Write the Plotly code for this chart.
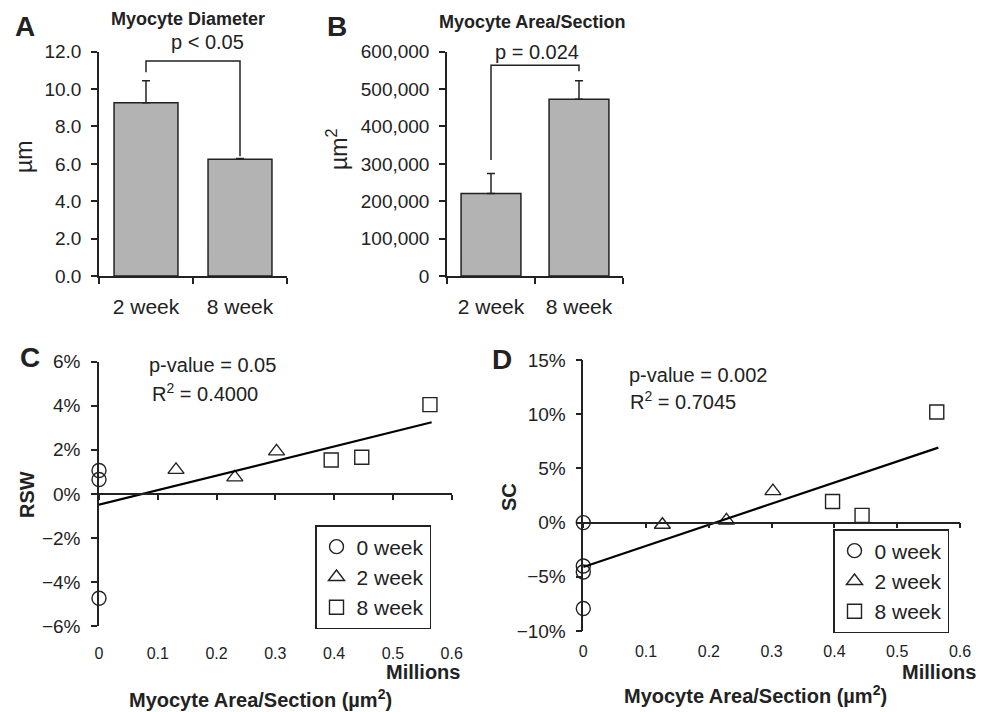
import plotly.graph_objects as go

# ---------------- data ----------------
bar_categories = ["2 week", "8 week"]
diameter_mean = [9.27, 6.24]
diameter_err = [1.18, 0.05]
area_mean = [221000, 472600]
area_err = [53500, 49400]

# significance brackets (y levels)
bracket_a_y = [10.9, 11.5, 11.5, 6.4]
bracket_b_y = [310000, 564000, 564000, 548000]

groups = ["0 week", "2 week", "8 week"]
group_symbols = ["circle-open", "triangle-up-open", "square-open"]

# Panel C: RSW (%) vs myocyte area/section (millions µm²)
rsw_x = {"0 week": [0, 0, 0], "2 week": [0.131, 0.231, 0.302], "8 week": [0.395, 0.447, 0.563]}
rsw_y = {"0 week": [1.06, 0.65, -4.74], "2 week": [1.09, 0.75, 1.93], "8 week": [1.54, 1.66, 4.05]}
rsw_fit_x = [0, 0.566]
rsw_fit_y = [-0.49, 3.25]
rsw_ticks = [-6, -4, -2, 0, 2, 4, 6]

# Panel D: SC (%) vs myocyte area/section (millions µm²)
sc_x = {"0 week": [0, 0, 0, 0], "2 week": [0.126, 0.228, 0.302], "8 week": [0.397, 0.444, 0.563]}
sc_y = {"0 week": [0.0, -4.0, -4.56, -7.93], "2 week": [-0.2, 0.2, 2.9], "8 week": [1.94, 0.67, 10.2]}
sc_fit_x = [0, 0.5655]
sc_fit_y = [-4.1, 6.92]
sc_ticks = [-10, -5, 0, 5, 10, 15]

area_ticks = [0, 0.1, 0.2, 0.3, 0.4, 0.5, 0.6]
area_ticktext = ["0", "0.1", "0.2", "0.3", "0.4", "0.5", "0.6"]

# ---------------- layout helpers ----------------
W, H = 982, 712
FONT = "Liberation Sans, Arial, Helvetica, sans-serif"
INK = "#222222"


def px(x):
    return x / W


def py(y):
    return 1 - y / H


def pct_labels(vals):
    return [("\u2212%d%%" % abs(v)) if v < 0 else ("%d%%" % v) for v in vals]


fig = go.Figure()

# ---- Panel A ----
fig.add_trace(go.Bar(
    x=bar_categories, y=diameter_mean, width=0.68,
    marker=dict(color="#b3b3b3", line=dict(color=INK, width=1.5)),
    error_y=dict(type="data", symmetric=False, array=diameter_err,
                 arrayminus=[0, 0], color=INK, thickness=1.5, width=4),
    xaxis="x", yaxis="y", showlegend=False))
fig.add_trace(go.Scatter(
    x=[bar_categories[0], bar_categories[0], bar_categories[1], bar_categories[1]],
    y=bracket_a_y, mode="lines", line=dict(color=INK, width=1.5),
    xaxis="x", yaxis="y", showlegend=False, hoverinfo="skip"))

# ---- Panel B ----
fig.add_trace(go.Bar(
    x=bar_categories, y=area_mean, width=0.68,
    marker=dict(color="#b3b3b3", line=dict(color=INK, width=1.5)),
    error_y=dict(type="data", symmetric=False, array=area_err,
                 arrayminus=[0, 0], color=INK, thickness=1.5, width=4),
    xaxis="x2", yaxis="y2", showlegend=False))
fig.add_trace(go.Scatter(
    x=[bar_categories[0], bar_categories[0], bar_categories[1], bar_categories[1]],
    y=bracket_b_y, mode="lines", line=dict(color=INK, width=1.5),
    xaxis="x2", yaxis="y2", showlegend=False, hoverinfo="skip"))

# ---- Panel C ----
fig.add_trace(go.Scatter(x=rsw_fit_x, y=rsw_fit_y, mode="lines",
                         line=dict(color="black", width=2.2),
                         xaxis="x5", yaxis="y3", showlegend=False, hoverinfo="skip"))
for i, g in enumerate(groups):
    fig.add_trace(go.Scatter(
        x=rsw_x[g], y=rsw_y[g], mode="markers", name=g,
        marker=dict(symbol=group_symbols[i], size=14, color=INK, line=dict(width=1.4, color=INK)),
        cliponaxis=False, xaxis="x3", yaxis="y3", legend="legend",
        legendgroup="c" + g, showlegend=True))

# ---- Panel D ----
fig.add_trace(go.Scatter(x=sc_fit_x, y=sc_fit_y, mode="lines",
                         line=dict(color="black", width=2.2),
                         xaxis="x6", yaxis="y4", showlegend=False, hoverinfo="skip"))
for i, g in enumerate(groups):
    fig.add_trace(go.Scatter(
        x=sc_x[g], y=sc_y[g], mode="markers", name=g,
        marker=dict(symbol=group_symbols[i], size=14, color=INK, line=dict(width=1.4, color=INK)),
        cliponaxis=False, xaxis="x4", yaxis="y4", legend="legend2",
        legendgroup="d" + g, showlegend=True))

tick_font = dict(family=FONT, size=19, color=INK)
small_tick_font = dict(family=FONT, size=16, color=INK)
cat_font = dict(family=FONT, size=21, color=INK)
axis_common = dict(showline=True, linecolor=INK, linewidth=1.5, ticks="outside",
                   ticklen=6, tickwidth=1.5, tickcolor=INK, showgrid=False,
                   zeroline=False, fixedrange=True, automargin=False)
free_common = dict(showgrid=False, zeroline=False, fixedrange=True, automargin=False)

# domains
A_x = [px(99), px(287)]
B_x = [px(447), px(623)]
AB_y = [py(276), py(51.7)]
C_x = [px(99), px(451.7)]
C_y = [py(626), py(361.7)]
D_x = [px(583.3), px(960)]
D_y = [py(631), py(360)]

C_range = [-6, 6]
D_range = [-10, 15]
C_zero = C_y[0] + (0 - C_range[0]) / (C_range[1] - C_range[0]) * (C_y[1] - C_y[0])
D_zero = D_y[0] + (0 - D_range[0]) / (D_range[1] - D_range[0]) * (D_y[1] - D_y[0])

legend_common = dict(xanchor="left", yanchor="top", bordercolor=INK, borderwidth=1.5,
                     bgcolor="white", font=dict(family=FONT, size=21, color=INK),
                     itemsizing="trace", tracegroupgap=0, itemwidth=30)

fig.update_layout(
    template="none",
    width=W, height=H, margin=dict(l=0, r=0, t=0, b=0, pad=0, autoexpand=False),
    paper_bgcolor="white", plot_bgcolor="rgba(0,0,0,0)",
    font=dict(family=FONT, color=INK),
    xaxis=dict(axis_common, domain=A_x, anchor="y", type="category", tickson="boundaries",
               tickfont=cat_font, ticklabelstandoff=11),
    yaxis=dict(axis_common, domain=AB_y, anchor="x", range=[0, 12], tickvals=[0, 2, 4, 6, 8, 10, 12],
               tickformat=".1f", tickfont=tick_font, ticklabelstandoff=6),
    xaxis2=dict(axis_common, domain=B_x, anchor="y2", type="category", tickson="boundaries",
                tickfont=cat_font, ticklabelstandoff=11),
    yaxis2=dict(axis_common, domain=AB_y, anchor="x2", range=[0, 600000],
                tickvals=[0, 100000, 200000, 300000, 400000, 500000, 600000],
                tickformat=",d", tickfont=tick_font, ticklabelstandoff=6),
    # panel C: labels at bottom (no line), zero-crossing axis line overlay
    xaxis3=dict(free_common, domain=C_x, anchor="y3", range=[0, 0.6], tickvals=area_ticks,
                ticktext=area_ticktext, showline=False, ticks="",
                tickfont=small_tick_font, ticklabelstandoff=16),
    xaxis5=dict(free_common, domain=C_x, anchor="free", position=C_zero, overlaying="x3", side="bottom",
                range=[0, 0.6], tickvals=area_ticks, showticklabels=False,
                showline=True, linecolor=INK, linewidth=1.5, ticks="outside", ticklen=5,
                tickwidth=1.5, tickcolor=INK),
    yaxis3=dict(axis_common, domain=C_y, anchor="x3", range=C_range, tickvals=rsw_ticks,
                ticktext=pct_labels(rsw_ticks), tickfont=tick_font, ticklabelstandoff=7),
    # panel D
    xaxis4=dict(free_common, domain=D_x, anchor="y4", range=[0, 0.6], tickvals=area_ticks,
                ticktext=area_ticktext, showline=False, ticks="",
                tickfont=small_tick_font, ticklabelstandoff=9),
    xaxis6=dict(free_common, domain=D_x, anchor="free", position=D_zero, overlaying="x4", side="bottom",
                range=[0, 0.6], tickvals=area_ticks, showticklabels=False,
                showline=True, linecolor=INK, linewidth=1.5, ticks="outside", ticklen=5,
                tickwidth=1.5, tickcolor=INK),
    yaxis4=dict(axis_common, domain=D_y, anchor="x4", range=D_range, tickvals=sc_ticks,
                ticktext=pct_labels(sc_ticks), tickfont=tick_font, ticklabelstandoff=6),
    legend=dict(legend_common, x=px(315), y=py(525)),
    legend2=dict(legend_common, x=px(833), y=py(529)),
)

ann = []


def text(x, y, s, size, bold=False, xanchor="center", angle=0):
    ann.append(dict(x=px(x), y=py(y), xref="paper", yref="paper", text=("<b>%s</b>" % s) if bold else s,
                    showarrow=False, xanchor=xanchor, yanchor="middle", textangle=angle,
                    font=dict(family=FONT, size=size, color=INK)))


# panel letters
text(25, 27, "A", 28, bold=True)
text(336.7, 27, "B", 28, bold=True)
text(30, 358, "C", 28, bold=True)
text(501.7, 359, "D", 28, bold=True)
# panel titles
text(188, 19, "Myocyte Diameter", 18, bold=True)
text(532, 22, "Myocyte Area/Section", 18, bold=True)
text(207, 42, "p &lt; 0.05", 20)
text(537, 52, "p = 0.024", 20)
# y titles
text(24, 157, "µm", 23, angle=-90)
text(337, 150, "µm<sup>2</sup>", 23, angle=-90)
text(27, 495, "RSW", 20, bold=True, angle=-90)
text(509, 497, "SC", 20, bold=True, angle=-90)
# regression stats
text(146.7, 365, "p-value = 0.05", 20, xanchor="left")
text(150, 392, "R<sup>2</sup> = 0.4000", 20, xanchor="left")
text(626.7, 375, "p-value = 0.002", 20, xanchor="left")
text(628, 400, "R<sup>2</sup> = 0.7045", 20, xanchor="left")
# x titles
text(461.7, 672, "Millions", 20, bold=True, xanchor="right")
text(978, 672, "Millions", 20, bold=True, xanchor="right")
text(260, 698, "Myocyte Area/Section (µm<sup>2</sup>)", 20, bold=True)
text(755, 694, "Myocyte Area/Section (µm<sup>2</sup>)", 20, bold=True)

fig.update_layout(annotations=ann)

fig.write_html("out.html", config={"displayModeBar": False},
               post_script="document.body.style.margin='0';document.body.style.padding='0';"
                           "document.documentElement.style.overflow='hidden';")
